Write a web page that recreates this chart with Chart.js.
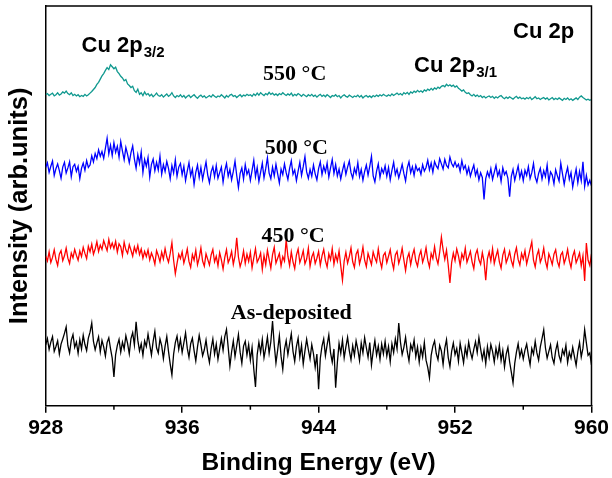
<!DOCTYPE html>
<html>
<head>
<meta charset="utf-8">
<script src="https://cdn.jsdelivr.net/npm/chart.js@4"></script>
<style>
html,body{margin:0;padding:0;background:#fff;}
#wrap{width:612px;height:478px;}
</style>
</head>
<body>
<div id="wrap"><canvas id="xps" width="612" height="478"></canvas></div>
<script>
// binding energy grid, 928 -> 960 eV in 0.1 eV steps (one row = 2 eV)
const eStart = 928, eStep = 0.1;

// (arbitrary intensity units, each curve offset)
const teal550 = [
  77.8,78.1,77.6,77.9,78.2,77.5,77.8,78.3,77.7,78.0,78.5,78.2,78.7,78.1,77.8,78.3,77.6,77.9,77.5,77.8,
  77.3,77.6,77.4,77.9,77.5,77.8,78.2,78.6,79.1,79.6,80.4,80.9,81.7,82.5,83.1,83.9,84.6,84.1,85.3,84.8,
  84.3,84.7,83.6,83.1,82.4,82.0,81.3,81.6,80.5,80.1,79.6,79.9,78.8,78.4,79.2,77.9,78.3,77.6,78.5,77.8,
  78.1,77.5,77.9,77.3,77.7,78.2,77.6,77.4,77.8,77.2,77.6,78.0,77.4,77.7,78.3,77.5,77.1,77.6,77.3,77.8,
  77.2,77.6,77.0,77.4,77.7,77.1,77.5,77.8,77.3,76.9,77.4,77.7,77.2,77.5,77.0,77.3,77.6,77.2,77.8,77.4,
  77.1,77.5,77.3,77.8,77.4,77.0,77.6,77.2,77.7,77.9,77.4,77.6,77.1,77.5,77.8,77.3,77.7,77.5,77.9,77.6,
  77.8,77.4,78.0,77.6,78.2,77.7,78.3,77.9,77.6,78.1,77.8,78.4,77.9,78.2,77.7,78.0,77.6,78.1,77.8,78.3,
  77.9,77.6,78.0,77.7,78.2,77.5,77.9,77.6,78.1,77.8,77.4,77.9,77.6,77.3,77.8,77.5,77.9,77.4,77.7,77.2,
  77.6,77.9,77.4,77.7,77.3,77.8,77.5,77.1,77.6,77.4,77.8,77.3,77.6,77.0,77.5,77.8,77.4,77.2,77.7,77.4,
  77.1,77.5,77.3,77.7,77.2,77.6,77.0,77.4,77.6,77.2,77.5,77.1,77.6,77.3,77.7,77.4,77.8,77.5,77.9,77.6,
  77.4,77.8,77.5,78.0,77.6,77.9,78.2,77.8,78.1,77.7,78.3,78.0,78.4,77.9,78.5,78.2,78.7,78.4,78.9,78.5,
  78.8,78.4,79.0,78.7,79.2,78.9,79.4,79.0,79.5,79.2,79.7,79.4,79.9,80.1,79.8,80.4,80.0,80.3,79.9,80.2,
  79.7,80.0,79.4,79.1,78.7,79.0,78.4,78.1,78.3,77.8,77.5,77.9,77.4,77.7,77.3,77.6,77.1,77.4,77.0,77.3,
  77.5,77.1,77.4,76.9,77.3,77.0,77.4,77.6,77.1,76.8,77.2,76.9,77.3,77.0,76.7,77.1,77.4,76.9,77.2,76.8,
  77.0,76.7,77.1,76.8,77.2,76.6,76.9,77.3,76.8,77.0,76.6,76.9,77.1,76.7,77.0,76.5,76.8,77.1,76.6,76.9,
  76.6,77.0,76.7,76.4,76.9,76.6,77.0,76.5,76.8,76.4,76.7,77.0,76.6,77.2,77.5,77.1,76.8,76.5,76.7,76.4,
  76.6
];
const blue500 = [
  59.6,60.8,58.4,59.9,61.2,57.6,59.3,60.5,58.8,56.9,59.7,60.9,58.2,59.5,61.0,57.3,59.8,60.4,58.6,59.9,
  56.8,59.4,60.7,58.9,61.3,59.6,60.2,62.5,61.0,63.1,61.8,64.0,62.4,63.6,61.9,64.4,66.9,63.0,65.2,62.6,
  65.8,63.4,64.9,62.2,66.1,63.7,61.5,64.6,62.9,60.8,63.3,65.0,61.7,59.4,62.8,60.6,63.5,58.3,61.6,59.9,
  62.1,57.2,60.4,61.7,58.8,60.9,59.0,62.4,57.9,60.3,58.6,61.1,59.4,56.8,60.1,58.2,61.5,57.4,59.7,60.6,
  57.8,59.9,56.3,58.7,60.8,57.5,59.2,55.4,58.4,60.2,57.1,59.6,56.6,58.9,61.0,57.7,55.8,58.5,59.8,57.3,
  60.1,56.9,58.3,59.7,55.9,58.8,60.6,57.4,59.1,56.5,58.6,61.2,57.6,54.6,58.1,59.5,56.7,60.3,57.9,59.0,
  56.4,58.9,61.4,57.3,59.6,56.1,58.4,60.7,57.0,59.3,62.0,58.2,56.8,59.7,57.5,60.4,58.0,55.7,59.2,57.8,
  60.5,58.3,56.6,59.4,61.3,57.9,59.0,56.3,58.7,60.9,57.6,59.8,62.3,58.5,56.9,59.1,57.4,60.2,58.0,56.5,
  59.3,61.0,57.8,59.9,58.4,60.7,57.2,59.5,61.6,58.1,60.3,57.5,59.2,56.7,58.8,60.6,57.9,59.7,61.2,58.3,
  56.9,59.4,58.0,60.8,57.3,59.1,56.4,58.6,60.2,57.7,59.9,62.4,57.5,56.0,58.7,60.5,57.1,59.3,58.2,60.0,
  57.4,59.6,56.5,58.9,60.9,57.8,59.2,57.0,58.6,60.4,58.1,56.2,59.5,61.0,58.3,59.8,57.6,60.1,58.8,59.4,
  57.9,60.3,58.7,59.6,61.4,59.0,60.7,58.4,61.1,60.0,59.3,61.8,60.5,59.2,61.6,60.1,59.5,62.2,60.6,59.8,
  61.0,59.7,60.4,58.6,61.3,59.2,60.1,58.0,59.6,57.4,58.9,60.2,57.6,59.0,56.5,58.3,57.1,51.6,56.8,58.5,
  57.2,59.3,56.6,58.4,60.1,57.5,58.8,56.1,59.5,57.8,58.6,56.9,52.3,57.4,59.1,56.4,58.2,60.0,57.0,58.7,
  56.3,58.9,57.6,59.8,56.8,58.3,60.6,57.2,55.9,58.1,59.4,56.7,58.8,57.3,60.2,56.0,58.5,57.7,55.5,59.0,
  57.5,56.2,60.7,58.0,55.4,57.9,59.6,56.6,58.3,54.7,57.1,59.2,55.8,58.6,56.3,61.0,54.9,57.6,55.2,56.4,
  55.0
];
const red450 = [
  37.4,36.2,38.5,35.8,37.1,39.0,36.6,35.1,37.9,38.8,36.3,37.5,39.4,36.9,35.6,38.2,37.0,39.1,37.6,36.4,
  38.7,37.3,39.6,38.1,36.8,39.9,38.5,40.4,37.9,39.2,41.0,38.6,40.2,39.1,41.3,40.0,38.8,41.6,39.5,40.7,
  39.3,41.1,38.4,40.5,39.8,37.6,40.9,39.0,38.1,40.3,38.9,37.4,39.7,38.3,40.1,37.8,39.2,36.9,38.6,37.3,
  39.0,36.5,38.2,37.1,35.4,38.8,37.6,36.0,38.4,36.7,39.3,37.2,35.9,38.1,40.8,36.4,33.0,35.6,37.9,36.8,
  38.5,35.7,37.3,39.2,36.1,34.6,37.8,36.4,38.9,35.3,37.0,39.5,36.2,34.9,38.0,36.6,35.2,37.7,39.1,36.0,
  37.4,35.0,38.3,36.5,34.2,37.1,39.0,35.8,36.9,38.6,35.4,37.5,42.0,37.2,34.8,36.3,38.7,35.6,37.9,36.1,
  38.4,34.5,37.0,39.3,35.9,36.8,38.2,34.1,37.6,35.3,38.9,36.6,34.4,37.8,39.6,35.7,36.9,38.1,35.0,37.3,
  36.2,41.5,37.4,35.1,38.5,36.0,34.3,37.7,39.2,35.8,37.1,38.8,35.5,36.7,39.4,34.9,37.2,38.3,35.6,36.9,
  38.6,35.2,37.5,39.1,36.3,34.7,38.0,36.5,39.3,35.4,37.8,36.1,38.7,35.0,31.4,36.2,38.4,35.7,37.3,39.5,
  36.0,34.6,37.9,38.9,35.5,37.2,39.7,36.4,34.8,38.1,36.7,35.3,38.5,37.0,35.9,39.2,36.3,34.5,37.6,38.3,
  35.8,37.4,39.0,36.1,34.2,37.7,38.6,35.6,37.1,39.4,36.5,33.8,36.9,38.2,35.3,37.6,39.1,36.2,34.9,37.5,
  38.8,35.9,37.3,39.5,36.4,34.7,38.1,36.8,39.8,37.0,35.5,38.4,42.2,39.0,36.6,38.9,35.2,30.7,35.8,38.2,
  36.3,39.2,37.5,35.1,38.0,36.7,39.4,35.9,37.2,38.6,36.0,34.3,37.8,39.0,36.5,35.4,38.3,36.1,31.4,36.8,
  38.5,36.2,39.3,35.6,37.4,38.9,36.0,34.4,37.7,39.1,35.8,37.0,38.6,36.3,34.9,37.9,39.5,36.6,35.2,38.1,
  36.7,38.8,35.5,37.3,39.2,41.0,36.4,34.7,37.6,38.9,35.9,37.1,39.4,36.2,34.5,38.0,36.8,35.3,37.9,39.0,
  36.1,34.8,37.7,38.4,35.6,37.0,39.1,36.3,34.6,37.4,38.7,35.8,36.9,38.2,35.0,37.5,31.2,40.7,36.4,35.1,
  38.0
];
const blackAsDep = [
  15.2,16.8,14.1,15.9,17.3,13.6,14.8,16.2,12.9,15.4,16.7,18.1,19.7,15.0,13.2,16.4,17.8,14.6,15.9,13.1,
  16.5,14.2,17.6,15.3,13.8,16.9,18.4,20.7,16.1,14.0,15.7,17.2,13.5,16.3,14.7,12.4,15.8,17.0,14.3,11.9,
  7.2,12.8,15.1,16.6,13.4,15.9,14.2,17.5,15.6,13.0,16.8,18.3,15.2,21.0,16.4,13.7,15.5,12.6,16.2,14.8,
  17.9,15.3,12.7,16.1,18.6,14.5,13.2,16.7,15.0,11.8,14.9,17.3,13.6,10.4,7.7,12.9,15.8,17.4,14.1,16.6,
  13.3,15.7,18.2,14.4,12.1,15.5,16.9,13.8,11.2,14.7,17.6,15.2,12.5,14.0,16.4,13.1,10.8,14.3,16.7,12.9,
  15.4,11.6,14.2,16.8,13.9,17.3,19.1,14.6,9.9,13.5,16.2,12.3,15.0,17.8,13.4,10.6,14.9,16.1,12.7,15.3,
  11.4,14.6,9.2,4.7,12.8,15.9,13.3,16.6,12.0,14.4,17.2,13.1,16.0,21.2,15.2,10.7,13.9,17.5,12.4,9.1,
  14.1,16.3,12.8,15.5,18.0,13.6,11.1,14.8,16.9,12.2,15.1,10.4,13.7,16.6,14.0,11.7,15.3,13.0,9.6,12.9,
  4.1,11.8,14.9,16.7,12.5,15.2,17.7,13.3,10.9,14.2,4.5,10.8,15.6,13.1,16.4,12.0,14.7,17.1,13.8,11.5,
  15.0,12.6,16.2,14.1,11.3,15.7,13.2,17.0,14.5,12.1,15.8,10.2,13.6,16.3,12.7,14.9,11.6,15.4,13.0,16.1,
  12.4,14.8,11.0,15.5,13.3,16.7,14.2,20.7,15.9,12.8,14.6,17.1,13.5,11.2,15.3,13.9,16.4,12.3,14.7,10.9,
  14.5,12.2,15.8,11.4,9.6,7.0,12.6,14.9,16.2,13.0,11.5,15.1,13.7,10.3,14.4,16.5,12.1,9.8,13.6,15.7,
  12.8,14.3,11.1,15.6,13.2,10.7,14.6,12.4,15.9,13.5,11.8,14.1,16.0,13.3,17.0,14.2,11.6,13.9,10.5,14.8,
  12.1,15.3,13.6,10.9,14.4,12.2,15.1,11.3,13.8,9.7,12.9,14.6,11.0,8.4,5.7,10.6,13.4,15.5,12.3,14.0,
  11.7,13.9,15.4,12.6,10.2,14.3,12.9,16.1,13.2,11.4,14.7,16.8,19.0,14.5,11.9,13.6,15.2,12.0,10.6,13.8,
  15.6,12.5,11.1,14.0,12.7,15.1,10.8,13.4,11.9,14.6,12.3,10.1,13.5,15.8,12.2,14.4,19.0,15.7,12.6,13.2,
  10.2
];

const majorTicks = [928, 936, 944, 952, 960];
const minorTicks = [932, 940, 948, 956];

// text notes, placed in data coordinates (eV, intensity)
const peakNotes = [
  {text:'Cu 2p', sub:'3/2', e:930.1, v:88.6},
  {text:'Cu 2p', sub:'3/1', e:949.6, v:83.5},
  {text:'Cu 2p', sub:'',    e:955.4, v:92.0}
];
const tempNotes = [
  {text:'550 \u00B0C',   e:942.6, v:82.8},
  {text:'500 \u00B0C',   e:942.7, v:64.5},
  {text:'450 \u00B0C',   e:942.5, v:42.5},
  {text:'As-deposited',  e:942.4, v:23.2}
];

const toPts = arr => arr.map((v,i)=>({x: eStart + i*eStep, y: v}));
const SANS = "'Liberation Sans', Arial, sans-serif";
const SERIF = "'Liberation Serif', 'Times New Roman', serif";

const line = (data, color) => ({
  data: toPts(data), borderColor: color, borderWidth: 1.3,
  pointRadius: 0, tension: 0, fill: false
});

const decor = {
  id: 'decor',
  afterDraw(chart){
    const {ctx, chartArea:a, scales:{x, y}} = chart;
    ctx.save();
    ctx.strokeStyle = '#000';
    ctx.lineWidth = 1.5;
    ctx.beginPath();
    ctx.moveTo(a.left, a.top); ctx.lineTo(a.right, a.top); ctx.lineTo(a.right, a.bottom);
    minorTicks.forEach(v=>{
      const px = x.getPixelForValue(v);
      ctx.moveTo(px, a.bottom); ctx.lineTo(px, a.bottom + 4);
    });
    ctx.stroke();

    ctx.fillStyle = '#000';
    ctx.textBaseline = 'alphabetic';
    ctx.textAlign = 'left';
    peakNotes.forEach(n=>{
      const px = x.getPixelForValue(n.e), py = y.getPixelForValue(n.v);
      ctx.font = 'bold 22px ' + SANS;
      ctx.fillText(n.text, px, py);
      if(n.sub){
        const w = ctx.measureText(n.text).width;
        ctx.font = 'bold 15px ' + SANS;
        ctx.fillText(n.sub, px + w + 1, py + 5);
      }
    });

    ctx.textAlign = 'center';
    ctx.textBaseline = 'middle';
    ctx.font = 'bold 22px ' + SERIF;
    tempNotes.forEach(n=>{
      ctx.fillText(n.text, x.getPixelForValue(n.e), y.getPixelForValue(n.v));
    });
    ctx.restore();
  }
};

new Chart(document.getElementById('xps'), {
  type: 'line',
  data: {
    datasets: [
      line(teal550, '#10998f'),
      line(blue500, '#0000ff'),
      line(red450, '#ff0000'),
      line(blackAsDep, '#000000')
    ]
  },
  options: {
    responsive: false,
    animation: false,
    layout: {padding: {top: 6, right: 19.5, left: 0, bottom: 0}},
    plugins: {legend: {display: false}, tooltip: {enabled: false}},
    scales: {
      x: {
        type: 'linear', position: 'bottom', min: 928, max: 960,
        afterFit: s => { s.height = 72.3; },
        ticks: {
          stepSize: 4, autoSkip: false, maxRotation: 0, padding: 3, color: '#000',
          font: {family: SANS, size: 21, weight: 'bold'},
          callback: v => majorTicks.includes(v) ? v : ''
        },
        grid: {
          drawOnChartArea: false, tickLength: 7, lineWidth: 1.5,
          color: c => (c.tick && majorTicks.includes(c.tick.value)) ? '#000' : 'rgba(0,0,0,0)'
        },
        border: {display: true, color: '#000', width: 1.5},
        title: {
          display: true, text: 'Binding Energy (eV)', color: '#000',
          font: {family: SANS, size: 24.5, weight: 'bold'}, padding: {top: 0, bottom: 0}
        }
      },
      y: {
        min: 0, max: 100,
        afterFit: s => { s.width = 45.7; },
        ticks: {display: false},
        grid: {display: false},
        border: {display: true, color: '#000', width: 1.5},
        title: {
          display: true, text: 'Intensity (arb.units)', color: '#000',
          font: {family: SANS, size: 25.5, weight: 'bold'}, padding: {top: 4.7, bottom: 0}
        }
      }
    }
  },
  plugins: [decor]
});
</script>
</body>
</html>
